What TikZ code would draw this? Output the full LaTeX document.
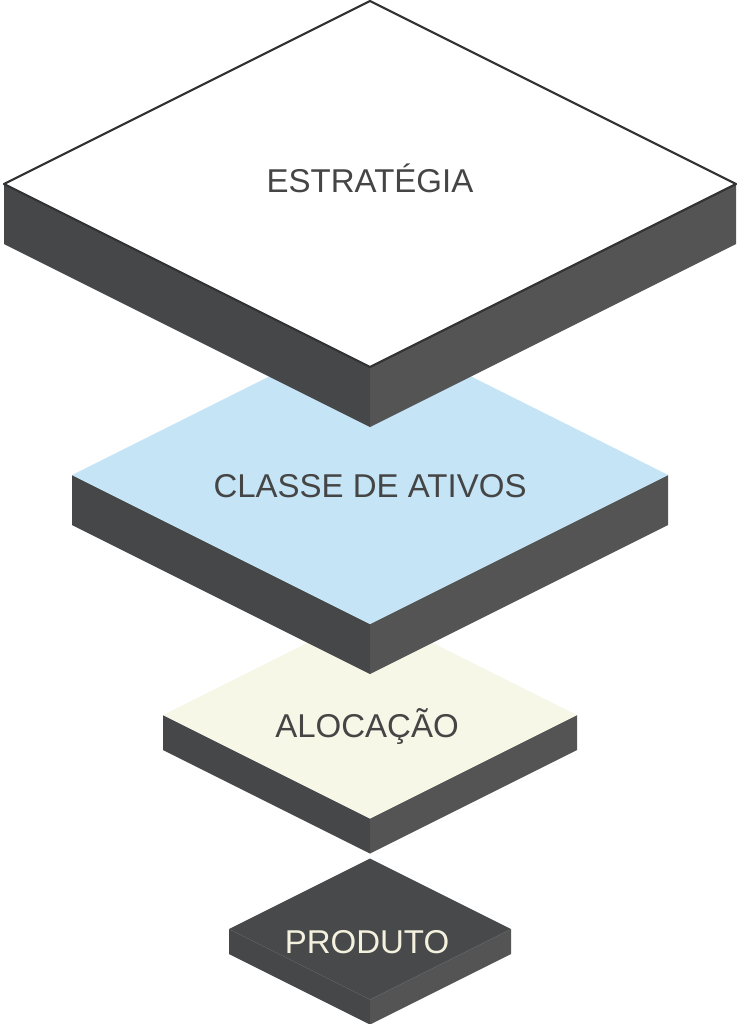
\documentclass[tikz,border=0pt]{standalone}
\usepackage{fontspec}
\setmainfont{Liberation Sans}
\definecolor{sideleft}{HTML}{464749}
\definecolor{sideright}{HTML}{545454}
\definecolor{edgegrey}{HTML}{333333}
\definecolor{labelgrey}{HTML}{454545}
\definecolor{labelcream}{HTML}{F4F2DE}
\definecolor{topblue}{HTML}{C5E5F7}
\definecolor{topcream}{HTML}{F7F7E8}
\definecolor{topdark}{HTML}{48494B}
\tikzset{
  leftside/.style={fill=sideleft},
  rightside/.style={fill=sideright},
  layerlabel/.style={anchor=base, font=\fontsize{33}{40}\selectfont, text=labelgrey},
}
% #1 centre x, #2 centre y, #3 half width, #4 thickness, #5 style of the top face
\newcommand{\layer}[5]{
  \fill[leftside] ({#1-#3},#2) -- (#1,{#2+#3/2}) -- (#1,{#2+#3/2+#4}) -- ({#1-#3},{#2+#4}) -- cycle;
  \fill[rightside] (#1,{#2+#3/2}) -- ({#1+#3},#2) -- ({#1+#3},{#2+#4}) -- (#1,{#2+#3/2+#4}) -- cycle;
  \path[#5] ({#1-#3},#2) -- (#1,{#2-#3/2}) -- ({#1+#3},#2) -- (#1,{#2+#3/2}) -- cycle;
}
\begin{document}
\begin{tikzpicture}[x=1pt,y=-1pt]
  \useasboundingbox (0,0) rectangle (740,1024);
  \layer{370}{929}{141}{25}{fill=topdark}
  \layer{370}{715}{207}{35}{fill=topcream}
  \layer{370}{475}{298}{50}{fill=topblue}
  \layer{370}{184}{366}{60}{fill=white, draw=edgegrey, line width=2.2pt, line join=round}
  \node[layerlabel] (estrategia) at (370,193) {ESTRATÉGIA};
  \node[layerlabel] (classe) at (370,497) {CLASSE DE ATIVOS};
  \node[layerlabel] (alocacao) at (367,737) {ALOCAÇÃO};
  \node[layerlabel, text=labelcream] (produto) at (367,953) {PRODUTO};
\end{tikzpicture}
\end{document}
